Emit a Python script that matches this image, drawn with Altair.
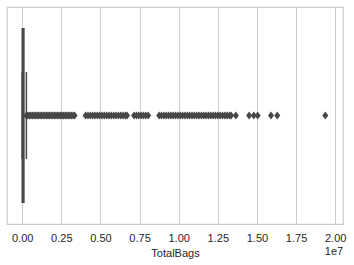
import altair as alt
import pandas as pd

# Box statistics of TotalBags
q1 = 5088
median = 39743
q3 = 110783
whisker_lo = 0
whisker_hi = 269000

# Outliers (in millions)
outliers_m = [
    0.27, 0.35, 0.45, 0.55, 0.65, 0.75, 0.85, 0.95, 1.05, 1.15, 1.25, 1.35,
    1.45, 1.55, 1.65, 1.75, 1.85, 1.95, 2.05, 2.15, 2.25, 2.35, 2.45, 2.55,
    2.65, 2.75, 2.85, 2.95, 3.05, 3.15, 3.25, 3.35,
    4.05, 4.2, 4.35, 4.5, 4.65, 4.8, 4.95, 5.1, 5.25, 5.4, 5.55, 5.7, 5.85,
    6.0, 6.15, 6.3, 6.45, 6.6, 6.7,
    7.15, 7.3, 7.45, 7.6, 7.75, 7.9, 8.05,
    8.75, 8.9, 9.05, 9.2, 9.35, 9.5, 9.65, 9.8, 9.95, 10.1, 10.25, 10.4,
    10.55, 10.7, 10.85, 11.0, 11.15, 11.3, 11.45, 11.6, 11.75, 11.9, 12.05,
    12.2, 12.35, 12.5, 12.65, 12.8, 12.95, 13.1, 13.25, 13.35,
    13.65, 14.5, 14.8, 15.05, 15.9, 16.3, 19.37,
]

tick_values = [0, 2.5e6, 5e6, 7.5e6, 1e7, 1.25e7, 1.5e7, 1.75e7, 2e7]

GRAY = "#474747"
FONT = "Liberation Sans"

x_scale = alt.Scale(domain=[-0.97e6, 2.05e7], nice=False, zero=False)
y_scale = alt.Scale(domain=[-0.5, 0.5])

box_df = pd.DataFrame({"q1": [q1], "q3": [q3], "median": [median],
                       "lo": [whisker_lo], "hi": [whisker_hi],
                       "top": [0.4], "bot": [-0.4], "ctop": [0.2], "cbot": [-0.2], "mid": [0.0]})
out_df = pd.DataFrame({"TotalBags": [v * 1e6 for v in outliers_m], "mid": 0.0})

base_x = alt.X("q1:Q", scale=x_scale,
               axis=alt.Axis(title="TotalBags", values=tick_values,
                             labelExpr="format(datum.value/1e7, '.2f')",
                             grid=True, gridColor="#cccccc", gridWidth=1,
                             domain=False, ticks=False, labelPadding=8,
                             labelFontSize=11, labelFont=FONT, labelColor="#262626",
                             titleFont=FONT, titleFontSize=11, titleFontWeight="normal",
                             titleColor="#262626", titlePadding=4))

box = alt.Chart(box_df).mark_rect(fill=GRAY, stroke=GRAY, strokeWidth=1.5).encode(
    x=base_x, x2="q3:Q",
    y=alt.Y("bot:Q", scale=y_scale, axis=None), y2="top:Q")

med = alt.Chart(box_df).mark_rule(color=GRAY, strokeWidth=1.5).encode(
    x=alt.X("median:Q", scale=x_scale), y=alt.Y("bot:Q", scale=y_scale), y2="top:Q")

wh_hi = alt.Chart(box_df).mark_rule(color=GRAY, strokeWidth=1.5).encode(
    x=alt.X("q3:Q", scale=x_scale), x2="hi:Q", y=alt.Y("mid:Q", scale=y_scale))
wh_lo = alt.Chart(box_df).mark_rule(color=GRAY, strokeWidth=1.5).encode(
    x=alt.X("lo:Q", scale=x_scale), x2="q1:Q", y=alt.Y("mid:Q", scale=y_scale))

cap_hi = alt.Chart(box_df).mark_rule(color=GRAY, strokeWidth=1.5).encode(
    x=alt.X("hi:Q", scale=x_scale), y=alt.Y("cbot:Q", scale=y_scale), y2="ctop:Q")
cap_lo = alt.Chart(box_df).mark_rule(color=GRAY, strokeWidth=1.5).encode(
    x=alt.X("lo:Q", scale=x_scale), y=alt.Y("cbot:Q", scale=y_scale), y2="ctop:Q")

pts = alt.Chart(out_df).mark_point(
    shape="M-0.75,0L0,-1L0.75,0L0,1Z", filled=True, size=64, opacity=1,
    color=GRAY).encode(
    x=alt.X("TotalBags:Q", scale=x_scale), y=alt.Y("mid:Q", scale=y_scale))

offset = alt.Chart(pd.DataFrame({"t": ["1e7"]})).mark_text(
    font=FONT, fontSize=11, color="#262626", align="center", baseline="middle").encode(
    x=alt.value(327), y=alt.value(245), text="t:N")

chart = alt.layer(box, wh_hi, wh_lo, cap_hi, cap_lo, med, pts, offset).properties(
    width=336, height=217,
    autosize=alt.AutoSizeParams(type="none"),
    padding={"left": 7, "top": 7, "right": 11, "bottom": 41},
    background="white",
).configure_view(stroke="#cccccc", strokeWidth=1.2)

chart.save("out.html", embed_options={"renderer": "svg", "actions": False})
